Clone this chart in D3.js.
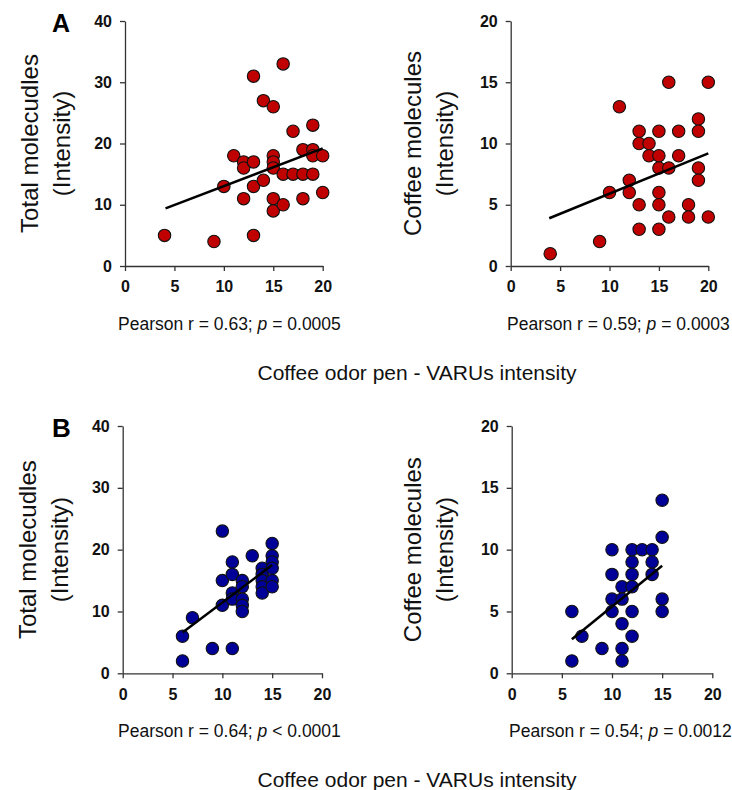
<!DOCTYPE html>
<html>
<head>
<meta charset="utf-8">
<script src="https://cdn.jsdelivr.net/npm/d3@7"></script>
<style>
html,body{margin:0;padding:0;background:#fff;}
svg{display:block;font-family:"Liberation Sans",Arial,sans-serif;}
</style>
</head>
<body>
<svg id="chart" width="732" height="790"></svg>
<script>
// ---------- data ----------
const xTicks = [0, 5, 10, 15, 20];
const yTicksTotal = [0, 10, 20, 30, 40];
const yTicksCoffee = [0, 5, 10, 15, 20];

// Panel A – Total molecules vs VARUs intensity
const aTotalX = [4, 9, 13, 10, 11, 12, 12, 13, 13, 14, 15, 16, 17, 19, 12, 13, 14, 15, 15, 15, 15, 15, 16, 16, 17, 18, 19, 18, 19, 19, 20, 20, 18];
const aTotalY = [5, 4, 5, 13, 18, 17, 16, 17, 31, 27, 26, 33, 22, 23, 11, 13, 14, 18, 17, 16, 11, 9, 10, 15, 15, 15, 15, 19, 19, 18, 18, 12, 11];
const aTotalFit = [[4.1, 9.4], [20, 19.2]];

// Panel A – Coffee molecules vs VARUs intensity
const aCoffeeX = [4, 9, 11, 10, 12, 12, 13, 13, 13, 13, 14, 14, 15, 15, 15, 15, 15, 15, 16, 16, 16, 17, 17, 18, 18, 19, 19, 19, 19, 20, 20];
const aCoffeeY = [1, 2, 13, 6, 7, 6, 11, 10, 5, 3, 10, 9, 11, 9, 8, 6, 5, 3, 15, 8, 4, 11, 9, 5, 4, 12, 11, 8, 7, 15, 4];
const aCoffeeFit = [[3.9, 3.9], [20, 9.2]];

// Panel B – Total molecules vs VARUs intensity
const bTotalX = [6, 6, 7, 9, 11, 10, 10, 10, 11, 11, 11, 11, 12, 12, 12, 12, 12, 13, 14, 14, 14, 14, 14, 15, 15, 15, 15, 15, 15];
const bTotalY = [2, 6, 9, 4, 4, 23, 15, 11, 18, 16, 13, 12, 15, 14, 12, 11, 10, 19, 17, 16, 15, 14, 13, 21, 19, 18, 17, 15, 14];
const bTotalFit = [[6, 6.6], [15, 17.5]];

// Panel B – Coffee molecules vs VARUs intensity
const bCoffeeX = [6, 6, 7, 9, 10, 10, 10, 10, 11, 11, 11, 11, 11, 12, 12, 12, 12, 12, 12, 13, 14, 14, 14, 15, 15, 15, 15];
const bCoffeeY = [5, 1, 3, 2, 10, 8, 6, 5, 7, 6, 4, 2, 1, 10, 9, 8, 7, 5, 3, 10, 10, 9, 8, 14, 11, 6, 5];
const bCoffeeFit = [[6, 2.76], [15, 8.7]];

const statsText = [
  ["Pearson r = 0.63; ", "p", " = 0.0005"],
  ["Pearson r = 0.59; ", "p", " = 0.0003"],
  ["Pearson r = 0.64; ", "p", " < 0.0001"],
  ["Pearson r = 0.54; ", "p", " = 0.0012"]
];
const yLabelsTotal = ["Total molecudles", "(Intensity)"];
const yLabelsCoffee = ["Coffee molecules", "(Intensity)"];
const xAxisTitle = "Coffee odor pen - VARUs intensity";
const panelLetters = ["A", "B"];

// ---------- drawing ----------
const svg = d3.select("#chart");
const RED = "#c00000", BLUE = "#000099";

const panels = [
  {xs: aTotalX, ys: aTotalY, fit: aTotalFit, ymax: 40, yt: yTicksTotal, lab: yLabelsTotal, stat: statsText[0], fill: RED,
   x0: 125, x1: 322.7, yb: 266, yt0: 21, labX: 30, statX: 118},
  {xs: aCoffeeX, ys: aCoffeeY, fit: aCoffeeFit, ymax: 20, yt: yTicksCoffee, lab: yLabelsCoffee, stat: statsText[1], fill: RED,
   x0: 510.7, x1: 708.3, yb: 266, yt0: 21, labX: 413, statX: 507},
  {xs: bTotalX, ys: bTotalY, fit: bTotalFit, ymax: 40, yt: yTicksTotal, lab: yLabelsTotal, stat: statsText[2], fill: BLUE,
   x0: 122.7, x1: 322, yb: 673.3, yt0: 426, labX: 28, statX: 118},
  {xs: bCoffeeX, ys: bCoffeeY, fit: bCoffeeFit, ymax: 20, yt: yTicksCoffee, lab: yLabelsCoffee, stat: statsText[3], fill: BLUE,
   x0: 511.7, x1: 712.3, yb: 673.3, yt0: 426, labX: 413, statX: 509}
];

panels.forEach(p => {
  const x = d3.scaleLinear().domain([0, 20]).range([p.x0, p.x1]);
  const y = d3.scaleLinear().domain([0, p.ymax]).range([p.yb, p.yt0]);
  const g = svg.append("g");

  const xa = g.append("g").attr("transform", `translate(0,${p.yb})`)
    .call(d3.axisBottom(x).tickValues(xTicks).tickSize(5).tickPadding(10).tickSizeOuter(0));
  const ya = g.append("g").attr("transform", `translate(${p.x0},0)`)
    .call(d3.axisLeft(y).tickValues(p.yt).tickSize(5).tickPadding(8).tickSizeOuter(0));
  [xa, ya].forEach(a => {
    a.select(".domain").attr("stroke", "#333").attr("stroke-width", 1.3);
    a.selectAll(".tick line").attr("stroke", "#333").attr("stroke-width", 1.3);
    a.selectAll("text").attr("fill", "#111").style("font-size", "16px").style("font-weight", "bold")
      .style("font-family", '"Liberation Sans",Arial,sans-serif');
  });

  const pts = p.xs.map((v, i) => [v, p.ys[i]]);
  g.selectAll("circle").data(pts).join("circle")
    .attr("cx", d => x(d[0])).attr("cy", d => y(d[1])).attr("r", 6.2)
    .attr("fill", p.fill).attr("stroke", "#111").attr("stroke-width", 1.1);

  g.append("line")
    .attr("x1", x(p.fit[0][0])).attr("y1", y(p.fit[0][1]))
    .attr("x2", x(p.fit[1][0])).attr("y2", y(p.fit[1][1]))
    .attr("stroke", "#000").attr("stroke-width", 2.5);

  const cy = (p.yb + p.yt0) / 2;
  const lt = g.append("text").attr("transform", `translate(${p.labX},${cy}) rotate(-90)`)
    .attr("text-anchor", "middle").style("font-size", "24px").attr("fill", "#111");
  lt.append("tspan").attr("x", 0).attr("y", 0).attr("dy", "0.35em").text(p.lab[0]);
  lt.append("tspan").attr("x", 0).attr("y", 0).attr("dy", "1.68em").text(p.lab[1]);

  const st = g.append("text").attr("x", p.statX).attr("y", p.yb + 64)
    .style("font-size", "17.5px").attr("fill", "#111");
  st.append("tspan").text(p.stat[0]);
  st.append("tspan").style("font-style", "italic").text(p.stat[1]);
  st.append("tspan").text(p.stat[2]);
});

[266, 673.3].forEach(yb => {
  svg.append("text").attr("x", 417).attr("y", yb + 114).attr("text-anchor", "middle")
    .style("font-size", "21px").attr("fill", "#111").text(xAxisTitle);
});
svg.append("text").attr("x", 52).attr("y", 32).style("font-size", "25px").style("font-weight", "bold").text(panelLetters[0]);
svg.append("text").attr("x", 52).attr("y", 437).style("font-size", "26px").style("font-weight", "bold").text(panelLetters[1]);
</script>
</body>
</html>
